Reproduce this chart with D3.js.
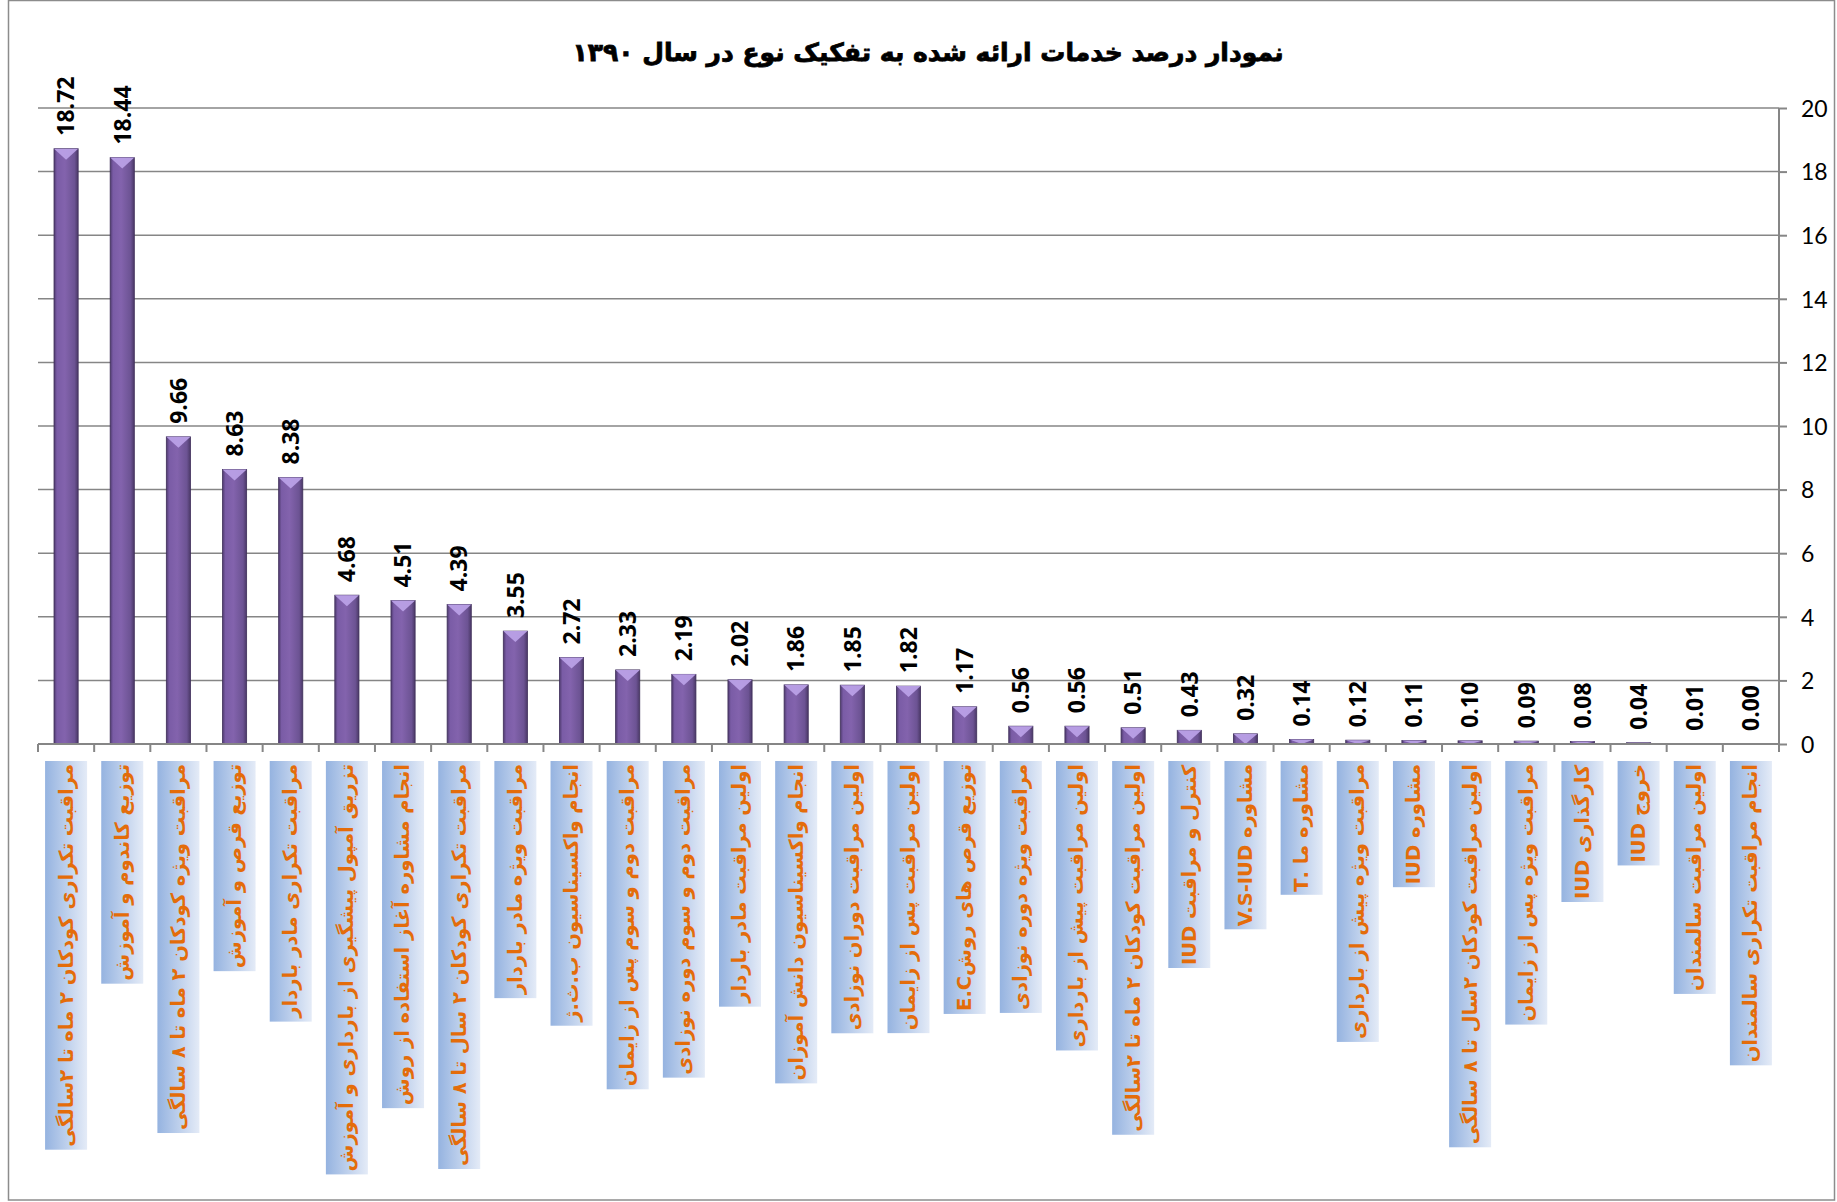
<!DOCTYPE html>
<meta charset="utf-8">
<style>
    * {
        margin: 0px;
    }
    body {
        background: #fff;
    }
    .grid line {
        stroke: #868686;
        stroke-width: 1.5px;
    }
    .yaxis text {
        font-family: Lato, "Open Sans", sans-serif;
        font-size: 23px;
        fill: #000;
    }
    .vals text {
        font-family: "Open Sans", sans-serif;
        font-size: 23px;
        font-weight: 700;
        fill: #000;
    }
    .cats text {
        font-family: "DejaVu Sans", sans-serif;
        font-size: 19.5px;
        font-weight: bold;
        fill: #e46c0a;
    }
</style>
<svg width="1837" height="1202"></svg>
<script src="https://d3js.org/d3.v7.min.js"></script>
<script>
    // categories, in drawing order (left to right)
    var categories = [
        "مراقبت تکراری کودکان ۲ ماه تا ۲سالگی",
        "توزیع کاندوم و آموزش",
        "مراقبت ویژه کودکان ۲ ماه تا ۸ سالگی",
        "توزیع قرص و آموزش",
        "مراقبت تکراری مادر باردار",
        "تزریق آمپول پیشگیری از بارداری و آموزش",
        "انجام مشاوره آغاز استفاده از روش",
        "مراقبت تکراری کودکان ۲ سال تا ۸ سالگی",
        "مراقبت ویژه مادر باردار",
        "انجام واکسیناسیون ب.ث.ژ",
        "مراقبت دوم و سوم پس از زایمان",
        "مراقبت دوم و سوم دوره نوزادی",
        "اولین مراقبت مادر باردار",
        "انجام واکسیناسیون دانش آموزان",
        "اولین مراقبت دوران نوزادی",
        "اولین مراقبت پس از زایمان",
        "توزیع قرص های روشE.C",
        "مراقبت ویژه دوره نوزادی",
        "اولین مراقبت پیش از بارداری",
        "اولین مراقبت کودکان ۲ ماه تا ۲سالگی",
        "کنترل و مراقبت IUD",
        "مشاوره V.S-IUD",
        "مشاوره ما .T",
        "مراقبت ویژه پیش از بارداری",
        "مشاوره IUD",
        "اولین مراقبت کودکان ۲سال تا ۸ سالگی",
        "مراقبت ویژه پس از زایمان",
        "کارگذاری IUD",
        "خروج IUD",
        "اولین مراقبت سالمندان",
        "انجام مراقبت تکراری سالمندان"
    ];
    var percents = [18.72, 18.44, 9.66, 8.63, 8.38, 4.68, 4.51, 4.39, 3.55, 2.72,
        2.33, 2.19, 2.02, 1.86, 1.85, 1.82, 1.17, 0.56, 0.56, 0.51,
        0.43, 0.32, 0.14, 0.12, 0.11, 0.10, 0.09, 0.08, 0.04, 0.01, 0.00];
    var yTicks = [0, 2, 4, 6, 8, 10, 12, 14, 16, 18, 20];
    var title = "نمودار درصد خدمات ارائه شده به تفکیک نوع در سال ۱۳۹۰";

    var svg = d3.select("svg");
    var plotLeft = 38, plotRight = 1779, plotTop = 108, plotBottom = 744;

    var x = d3.scaleBand().domain(d3.range(categories.length)).range([plotLeft, plotRight]).padding(0);
    var y = d3.scaleLinear().domain([0, 20]).range([plotBottom, plotTop]);
    var barW = x.bandwidth() * 0.43;

    var defs = svg.append("defs");
    var bg = defs.append("linearGradient").attr("id", "barGrad")
        .attr("x1", 0).attr("y1", 0).attr("x2", 1).attr("y2", 0);
    bg.append("stop").attr("offset", 0).attr("stop-color", "#4e3a6e");
    bg.append("stop").attr("offset", 0.12).attr("stop-color", "#7a5ca6");
    bg.append("stop").attr("offset", 0.45).attr("stop-color", "#8363ad");
    bg.append("stop").attr("offset", 0.85).attr("stop-color", "#6c5393");
    bg.append("stop").attr("offset", 1).attr("stop-color", "#4a3866");

    var lg = defs.append("linearGradient").attr("id", "boxGrad")
        .attr("x1", 0).attr("y1", 0).attr("x2", 0).attr("y2", 1);
    lg.append("stop").attr("offset", 0).attr("stop-color", "#95b3e0");
    lg.append("stop").attr("offset", 1).attr("stop-color", "#e4ebf7");

    // chart border
    svg.append("rect")
        .attr("x", 8.5).attr("y", 0.5).attr("width", 1826).attr("height", 1199.5)
        .attr("fill", "none").attr("stroke", "#8c8c8c").attr("stroke-width", 1.5);

    // title
    svg.append("text")
        .attr("x", 928).attr("y", 61)
        .attr("text-anchor", "middle")
        .attr("direction", "rtl")
        .style("font-family", "'DejaVu Sans', sans-serif")
        .style("font-weight", "bold")
        .style("font-size", "25px")
        .attr("stroke", "#000").attr("stroke-width", 0.8)
        .text(title);

    // grid lines
    svg.append("g").attr("class", "grid")
        .selectAll("line")
        .data(yTicks.filter(function(d) { return d > 0; }))
        .enter().append("line")
        .attr("x1", plotLeft).attr("x2", plotRight)
        .attr("y1", function(d) { return y(d); })
        .attr("y2", function(d) { return y(d); });

    // right axis
    var yAxis = d3.axisRight(y).tickValues(yTicks).tickSize(8).tickPadding(14);
    var ya = svg.append("g").attr("class", "yaxis")
        .attr("transform", "translate(" + plotRight + ",0)")
        .call(yAxis);
    ya.select(".domain").attr("stroke", "#868686").attr("stroke-width", 2)
        .attr("d", "M0," + plotTop + "V" + plotBottom);
    ya.selectAll(".tick line").attr("stroke", "#868686").attr("stroke-width", 2);
    ya.selectAll("text").attr("dy", "0.36em");

    // bars
    var bars = svg.append("g").selectAll("g")
        .data(percents)
        .enter().append("g");

    bars.append("rect")
        .attr("x", function(d, i) { return x(i) + (x.bandwidth() - barW) / 2; })
        .attr("y", function(d) { return y(d); })
        .attr("width", barW)
        .attr("height", function(d) { return y(0) - y(d); })
        .attr("fill", "url(#barGrad)")
        .attr("stroke", function(d) { return d > 0.02 ? "#3f2f5a" : "none"; })
        .attr("stroke-width", 0.8);

    // bevel on the bar top
    bars.append("path")
        .attr("d", function(d, i) {
            var x0 = x(i) + (x.bandwidth() - barW) / 2, x1 = x0 + barW;
            var h = Math.min(11, y(0) - y(d));
            var t = y(d);
            return "M" + x0 + "," + t + "L" + x1 + "," + t + "L" + (x0 + barW / 2) + "," + (t + h) + "Z";
        })
        .attr("fill", "#b9a0e6")
        .attr("opacity", 0.95);

    // x axis line and ticks
    var xa = svg.append("g");
    xa.append("line")
        .attr("x1", plotLeft).attr("x2", plotRight)
        .attr("y1", plotBottom).attr("y2", plotBottom)
        .attr("stroke", "#868686").attr("stroke-width", 2);
    xa.selectAll(".xt")
        .data(d3.range(categories.length + 1))
        .enter().append("line")
        .attr("x1", function(i) { return plotLeft + i * x.step(); })
        .attr("x2", function(i) { return plotLeft + i * x.step(); })
        .attr("y1", plotBottom).attr("y2", plotBottom + 8)
        .attr("stroke", "#868686").attr("stroke-width", 2);

    // value labels
    svg.append("g").attr("class", "vals")
        .selectAll("text")
        .data(percents)
        .enter().append("text")
        .attr("transform", function(d, i) {
            return "translate(" + (x(i) + x.bandwidth() / 2) + "," + (y(d) - 13) + ") rotate(-90)";
        })
        .attr("dy", "0.36em")
        .text(function(d) { return d.toFixed(2); });

    // category labels: vertical boxes with rtl text
    var pad = 3, boxHalf = 21;
    var cats = svg.append("g").attr("class", "cats")
        .selectAll("g")
        .data(categories)
        .enter().append("g")
        .attr("transform", function(d, i) {
            return "translate(" + (x(i) + x.bandwidth() / 2) + ",761) rotate(-90)";
        });

    cats.each(function(d) {
        var g = d3.select(this);
        var box = g.append("rect");
        var t = g.append("text")
            .attr("direction", "rtl")
            .attr("dy", "0.33em")
            .text(d);
        var bb = t.node().getBBox();
        t.attr("x", -pad - (bb.x + bb.width));
        box.attr("x", -(bb.width + 2 * pad))
            .attr("y", -boxHalf)
            .attr("width", bb.width + 2 * pad)
            .attr("height", boxHalf * 2)
            .attr("fill", "url(#boxGrad)");
    });
</script>
